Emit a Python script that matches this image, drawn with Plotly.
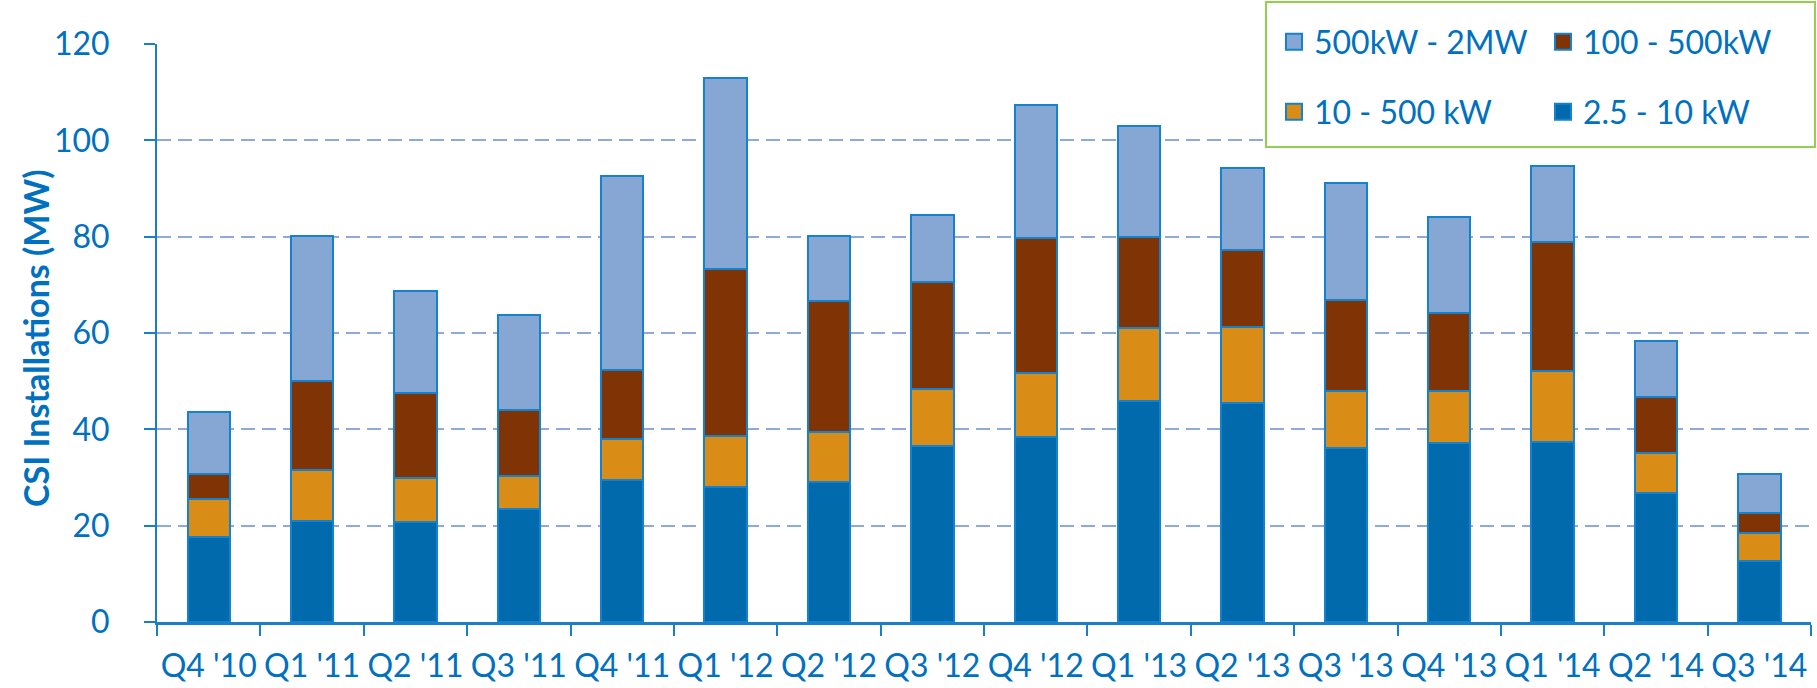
import plotly.graph_objects as go

quarters = ["Q4 '10", "Q1 '11", "Q2 '11", "Q3 '11", "Q4 '11", "Q1 '12", "Q2 '12", "Q3 '12",
            "Q4 '12", "Q1 '13", "Q2 '13", "Q3 '13", "Q4 '13", "Q1 '14", "Q2 '14", "Q3 '14"]

s_2_5_10kw = [17.6, 20.9, 20.7, 23.5, 29.5, 28.1, 29.1, 36.5, 38.5, 45.9, 45.4, 36.1, 37.2, 37.4, 26.7, 12.6]
s_10_500kw = [7.9, 10.7, 9.2, 6.9, 8.5, 10.5, 10.3, 11.8, 13.2, 15.2, 15.8, 11.9, 10.8, 14.7, 8.4, 5.9]
s_100_500kw = [5.2, 18.4, 17.6, 13.6, 14.4, 34.6, 27.2, 22.3, 28.1, 18.9, 16.1, 18.9, 16.1, 26.8, 11.7, 4.2]
s_500kw_2mw = [13.0, 30.2, 21.3, 19.7, 40.2, 39.8, 13.6, 13.8, 27.6, 23.0, 17.0, 24.2, 20.0, 15.8, 11.5, 8.0]

y_ticks = [0, 20, 40, 60, 80, 100, 120]

TEXT = "#0070C0"
AXIS = "#1A7FC6"
EDGE = "#1482CC"
GRID = "#8EA9DB"
FONT = "Lato"
W, H = 1817, 688
L, R, T, B = 157, 6, 44, 66
PW, PH = W - L - R, H - T - B


def px_x(p):
    return (p - L) / PW


def px_y(p):
    return (H - B - p) / PH


series = [
    ("2.5 - 10 kW", s_2_5_10kw, "#006AAC", "legend2", 4),
    ("10 - 500 kW", s_10_500kw, "#D98C16", "legend2", 3),
    ("100 - 500kW", s_100_500kw, "#803304", "legend", 2),
    ("500kW - 2MW", s_500kw_2mw, "#86A7D4", "legend", 1),
]

fig = go.Figure()
for name, vals, color, lg, rank in series:
    fig.add_trace(go.Bar(
        x=quarters, y=vals, name=name,
        marker=dict(color=color, line=dict(color=EDGE, width=2)),
        showlegend=False,
    ))
# legend entries (larger square swatches than the default bar icon)
for name, vals, color, lg, rank in series:
    fig.add_trace(go.Scatter(
        x=[None], y=[None], name=name, mode="markers",
        marker=dict(symbol="square", size=16, color=color, line=dict(color=EDGE, width=2)),
        legend=lg, legendrank=rank, hoverinfo="skip",
    ))

legend_common = dict(
    orientation="h", xanchor="left", yanchor="middle", traceorder="normal",
    bgcolor="rgba(0,0,0,0)", borderwidth=0,
    font=dict(family=FONT, size=32, color=TEXT),
    entrywidth=224, entrywidthmode="pixels",
    itemclick=False, itemdoubleclick=False,
)

fig.update_layout(
    width=W, height=H,
    margin=dict(l=L, r=R, t=T, b=B, autoexpand=False),
    paper_bgcolor="white", plot_bgcolor="white",
    barmode="stack", bargap=0.59,
    font=dict(family=FONT, size=32, color=TEXT),
    showlegend=True,
    legend=dict(x=px_x(1274), y=px_y(42), **legend_common),
    legend2=dict(x=px_x(1274), y=px_y(112), **legend_common),
    xaxis=dict(
        type="category", showline=True, linecolor=AXIS, linewidth=3,
        ticks="outside", tickson="boundaries", ticklen=11, tickwidth=2, tickcolor=AXIS,
        tickfont=dict(family=FONT, size=32, color=TEXT), tickangle=0,
        showgrid=False, ticklabelstandoff=14,
    ),
    yaxis=dict(
        range=[0, 120], tickvals=y_ticks, ticktext=[str(v) for v in y_ticks],
        showline=True, linecolor=AXIS, linewidth=2,
        ticks="outside", ticklen=11, tickwidth=2, tickcolor=AXIS,
        tickfont=dict(family=FONT, size=32, color=TEXT), ticklabelstandoff=28,
        showgrid=True, gridcolor=GRID, gridwidth=2, griddash="14px,7px",
        zeroline=False,
    ),
    annotations=[dict(
        text="<b>CSI Installations (MW)</b>", xref="paper", yref="paper",
        x=px_x(35), y=px_y(338), xanchor="center", yanchor="middle",
        textangle=-90, showarrow=False,
        font=dict(family=FONT, size=34, color=TEXT),
    )],
    shapes=[dict(
        type="rect", xref="paper", yref="paper",
        x0=px_x(1266), x1=px_x(1815), y0=px_y(147), y1=px_y(2),
        line=dict(color="#92D050", width=2), fillcolor="white", layer="above",
    )],
)

fig.write_html("out.html")
